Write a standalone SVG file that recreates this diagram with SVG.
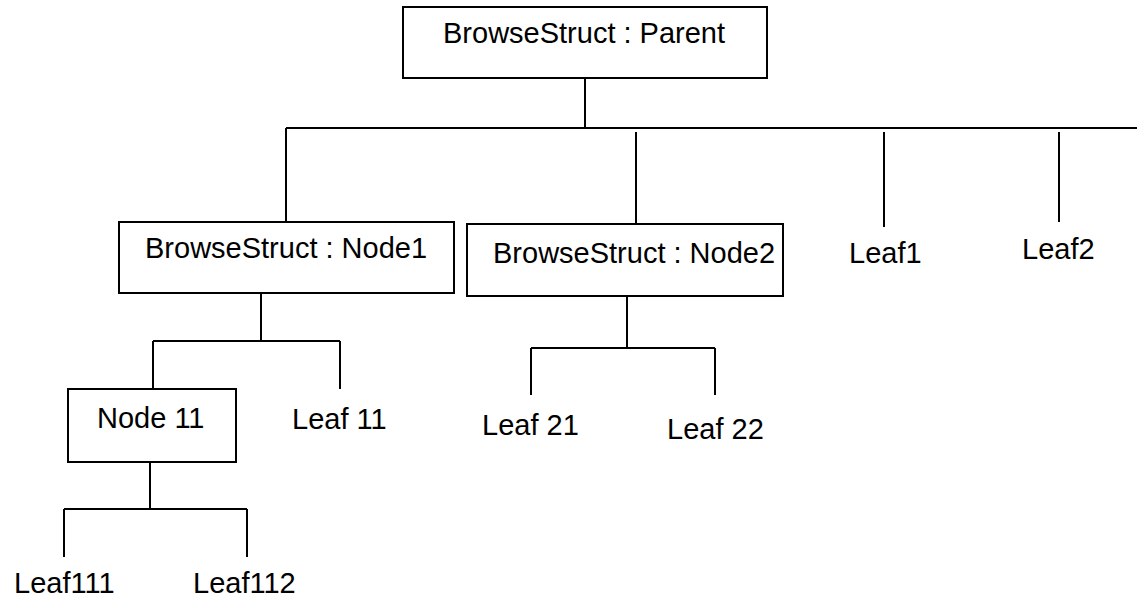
<svg xmlns="http://www.w3.org/2000/svg" width="1137" height="602" viewBox="0 0 1137 602">
<style>
rect.box{fill:#fff;stroke:#000;stroke-width:2}
line{stroke:#000;stroke-width:2}
text{font-family:"Liberation Sans",Arial,sans-serif;font-size:29px;fill:#000}
</style>
<rect width="1137" height="602" fill="#fff"/>
<g id="connectors">
<line x1="585" y1="78" x2="585" y2="128"/>
<line x1="286" y1="128" x2="1137" y2="128"/>
<line x1="286" y1="128" x2="286" y2="222"/>
<line x1="636" y1="132" x2="636" y2="224"/>
<line x1="884" y1="132" x2="884" y2="227"/>
<line x1="1059" y1="132" x2="1059" y2="222"/>
<line x1="261" y1="293" x2="261" y2="341"/>
<line x1="153" y1="341" x2="340" y2="341"/>
<line x1="153" y1="341" x2="153" y2="389"/>
<line x1="340" y1="341" x2="340" y2="389"/>
<line x1="150" y1="462" x2="150" y2="509"/>
<line x1="64" y1="509" x2="247" y2="509"/>
<line x1="64" y1="509" x2="64" y2="557"/>
<line x1="247" y1="509" x2="247" y2="557"/>
<line x1="627" y1="296" x2="627" y2="348"/>
<line x1="531" y1="348" x2="715" y2="348"/>
<line x1="531" y1="348" x2="531" y2="395"/>
<line x1="715" y1="348" x2="715" y2="395"/>
</g>
<g id="parent"><rect class="box" x="403" y="7" width="364" height="71"/><text x="443" y="43">BrowseStruct : Parent</text></g>
<g id="node1"><rect class="box" x="119" y="222" width="335" height="71"/><text x="145" y="258">BrowseStruct : Node1</text></g>
<g id="node2"><rect class="box" x="467" y="224" width="316" height="72"/><text x="493" y="263">BrowseStruct : Node2</text></g>
<g id="leaf1"><text x="849" y="263">Leaf1</text></g>
<g id="leaf2"><text x="1022" y="259">Leaf2</text></g>
<g id="node11"><rect class="box" x="68" y="389" width="168" height="73"/><text x="97" y="428">Node 11</text></g>
<g id="leaf11"><text x="292" y="429">Leaf 11</text></g>
<g id="leaf21"><text x="482" y="435">Leaf 21</text></g>
<g id="leaf22"><text x="667" y="439">Leaf 22</text></g>
<g id="leaf111"><text x="14" y="593">Leaf111</text></g>
<g id="leaf112"><text x="193" y="593">Leaf112</text></g>
</svg>
